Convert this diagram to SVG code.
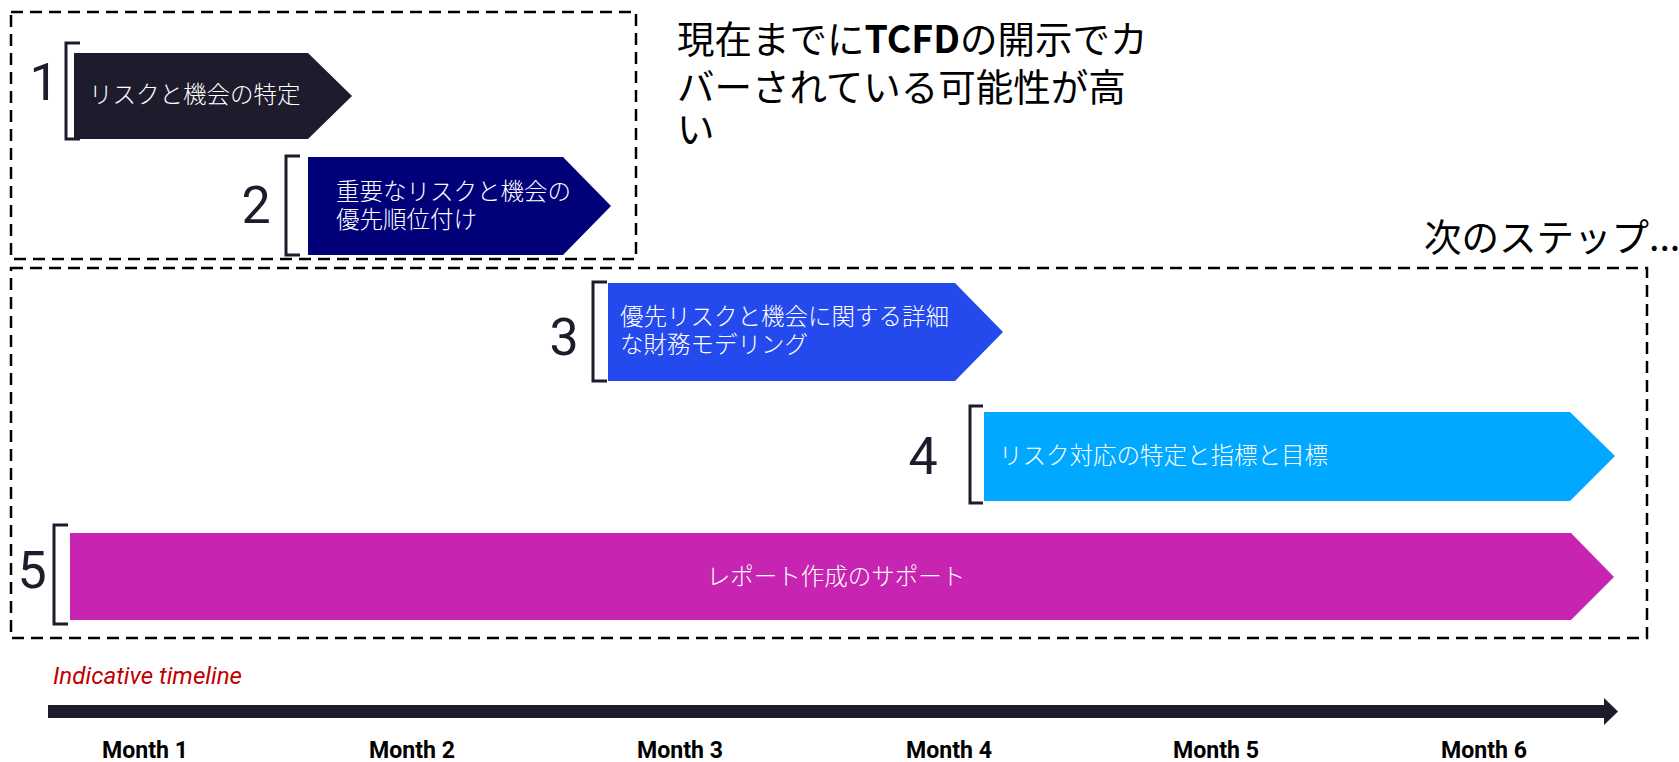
<svg xmlns="http://www.w3.org/2000/svg" width="1679" height="762" viewBox="0 0 1679 762">
<style>
  .dash { fill: none; stroke: #000; stroke-width: 2.5; stroke-dasharray: 12 7; }
  .brk { fill: none; stroke: #1e1b2c; stroke-width: 3; }
  .num { font-family: Roboto, "Liberation Sans", sans-serif; font-size: 52px; fill: #1e1b2c; text-anchor: middle; }
  .lbl { font-family: "Noto Sans CJK JP", sans-serif; font-size: 23.5px; font-weight: 300; fill: #ffffff; }
  .title { font-family: "Noto Sans CJK JP", sans-serif; font-size: 37.5px; fill: #000; }
  .month { font-family: Roboto, "Liberation Sans", sans-serif; font-size: 24px; font-weight: bold; fill: #000; text-anchor: middle; }
</style>
<rect width="1679" height="762" fill="#ffffff"/>

<g id="group-current">
  <rect class="dash" x="11" y="12" width="625" height="247"/>
</g>
<g id="group-next">
  <rect class="dash" x="11" y="268" width="1636" height="370"/>
</g>

<g id="title-current">
  <text class="title" x="677" y="53">現在までに<tspan font-weight="bold">TCFD</tspan>の開示でカ</text>
  <text class="title" x="677" y="101">バーされている可能性が高</text>
  <text class="title" x="677" y="143">い</text>
</g>

<g id="title-next">
  <text class="title" x="1424" y="251" font-size="37px">次のステップ...</text>
</g>

<g id="step1">
  <path class="brk" d="M80,43 H66 V139 H80"/>
  <polygon points="74,53 308,53 352,96 308,139 74,139" fill="#1e1b2c"/>
  <text class="num" x="44" y="100">1</text>
  <text class="lbl" x="89" y="103">リスクと機会の特定</text>
</g>

<g id="step2">
  <path class="brk" d="M300,156 H286 V255 H300"/>
  <polygon points="308,157 563,157 611,206 563,255 308,255" fill="#000078"/>
  <text class="num" x="256" y="223">2</text>
  <text class="lbl" x="336" y="200">重要なリスクと機会の</text>
  <text class="lbl" x="336" y="228">優先順位付け</text>
</g>

<g id="step3">
  <path class="brk" d="M607,282 H593 V381 H607"/>
  <polygon points="608,283 955,283 1003,332 955,381 608,381" fill="#2449ed"/>
  <text class="num" x="564" y="355">3</text>
  <text class="lbl" x="620" y="325">優先リスクと機会に関する詳細</text>
  <text class="lbl" x="620" y="353">な財務モデリング</text>
</g>

<g id="step4">
  <path class="brk" d="M983,406 H970 V503 H983"/>
  <polygon points="984,412 1570,412 1615,456 1570,501 984,501" fill="#00a9ff"/>
  <text class="num" x="923" y="474">4</text>
  <text class="lbl" x="999" y="464">リスク対応の特定と指標と目標</text>
</g>

<g id="step5">
  <path class="brk" d="M68,525 H54 V624 H68"/>
  <polygon points="70,533 1571,533 1614,577 1571,620 70,620" fill="#c724b1"/>
  <text class="num" x="32" y="588">5</text>
  <text class="lbl" x="836" y="585" text-anchor="middle">レポート作成のサポート</text>
</g>

<g id="timeline-label">
  <text x="53" y="684" font-family="Roboto, 'Liberation Sans', sans-serif" font-size="23px" font-style="italic" fill="#c00000" textLength="189" lengthAdjust="spacingAndGlyphs">Indicative timeline</text>
</g>

<g id="connectors">
  <path d="M48,705 H1604 V698 L1618,711.5 L1604,725 V718 H48 Z" fill="#1e1b2c"/>
</g>

<g id="months">
  <text class="month" x="145" y="758" textLength="86" lengthAdjust="spacingAndGlyphs">Month 1</text>
  <text class="month" x="412" y="758" textLength="86" lengthAdjust="spacingAndGlyphs">Month 2</text>
  <text class="month" x="680" y="758" textLength="86" lengthAdjust="spacingAndGlyphs">Month 3</text>
  <text class="month" x="949" y="758" textLength="86" lengthAdjust="spacingAndGlyphs">Month 4</text>
  <text class="month" x="1216" y="758" textLength="86" lengthAdjust="spacingAndGlyphs">Month 5</text>
  <text class="month" x="1484" y="758" textLength="86" lengthAdjust="spacingAndGlyphs">Month 6</text>
</g>
</svg>
